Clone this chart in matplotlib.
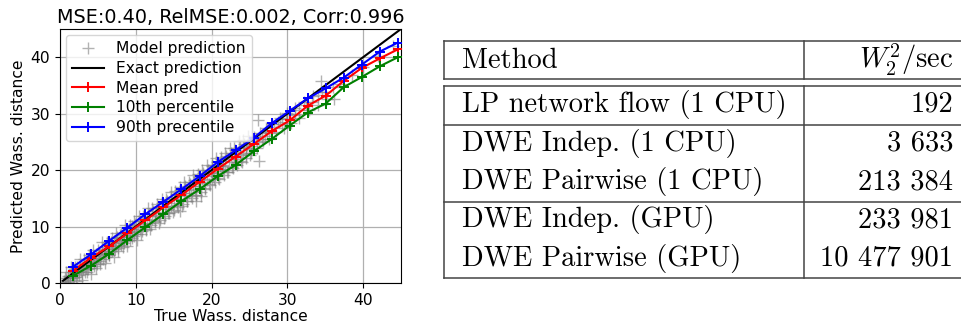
import matplotlib as mpl
mpl.use('Agg')

import matplotlib.pyplot as plt
from matplotlib.lines import Line2D

# Binned statistics of predicted vs. true Wasserstein distance
bin_centers = [1.75, 4.13, 6.51, 8.89, 11.27, 13.65, 16.03, 18.41, 20.79, 23.17,
               25.55, 27.93, 30.31, 32.69, 35.07, 37.45, 39.83, 42.21, 44.59]
mean_pred = [2.2, 4.5, 6.5, 8.8, 11.1, 13.4, 15.6, 17.9, 20.2, 22.4,
             24.6, 26.9, 28.8, 31.4, 33.2, 35.8, 38.1, 39.8, 41.4]
p90_pred = [2.9, 5.1, 7.5, 9.8, 12.2, 14.4, 16.6, 18.9, 21.4, 23.5,
            25.7, 28.3, 30.5, 32.7, 34.5, 36.4, 38.7, 41.0, 42.6]
p10_pred = [1.3, 3.1, 5.2, 7.6, 9.9, 12.2, 14.5, 16.6, 18.9, 20.9,
            23.3, 25.5, 27.9, 30.2, 31.8, 34.7, 36.5, 38.4, 40.0]
exact_range = [0.4, 45.0]

# Individual model predictions (true, predicted)
true_dist = [0.5, 0.7, 0.9, 1.1, 1.3, 1.5, 1.7, 1.9, 2.1, 2.3, 2.5, 2.7, 2.9, 3.1, 3.3,
             3.5, 3.7, 3.9, 4.1, 4.3, 4.5, 4.7, 4.9, 5.1, 5.3, 5.5, 5.7, 5.9, 6.1, 6.3,
             6.5, 6.7, 6.9, 7.1, 7.3, 7.5, 7.7, 7.9, 8.1, 8.3, 8.5, 8.7, 8.9, 9.1, 9.3,
             9.5, 9.7, 9.9, 1.0, 2.0, 3.0, 4.0, 5.0, 6.0, 7.0, 8.0, 9.0, 10.0,
             10.2, 10.5, 10.8, 11.1, 11.4, 11.7, 12.0, 12.3, 12.6, 12.9, 13.2, 13.5,
             13.8, 14.1, 14.4, 14.7, 15.0, 15.3, 15.6, 15.9, 16.2, 16.5, 16.8, 17.1,
             17.4, 17.7, 18.0, 18.3, 18.6, 18.9, 19.2, 19.5, 19.8, 20.1, 20.4, 20.7,
             21.0, 21.3, 21.6, 21.9, 22.2, 22.5, 22.8, 23.1, 23.4, 23.7, 24.0, 24.3,
             24.6, 24.9, 11.0, 12.5, 14.0, 15.5, 17.0, 18.5, 20.0, 21.5, 23.0, 24.5,
             18.0, 18.6, 15.8,
             25.2, 25.6, 26.0, 26.4, 26.8, 27.2, 27.6, 28.0, 28.5, 29.0, 29.5, 30.0,
             30.5, 31.0, 31.6, 32.2, 32.8, 33.4, 34.0, 34.6, 35.3, 36.0, 37.0, 38.5,
             40.0, 42.0, 44.0, 26.2, 26.1, 34.5, 36.1, 27.0, 30.0,
             0.6, 0.85, 1.35, 1.6, 1.85, 2.2, 2.45, 2.8, 3.2, 3.45, 3.8, 4.2, 4.45,
             4.8, 5.2, 5.45, 5.8, 6.2, 6.45, 6.8, 7.2, 7.45, 7.8, 8.2, 8.45, 8.8,
             9.2, 9.45, 9.8, 10.3, 10.6, 11.0, 11.5, 11.8, 12.2, 12.7, 13.0, 13.4,
             13.9, 14.2, 14.6, 15.1, 15.4, 15.8, 16.3, 16.6, 17.0, 17.5, 17.8, 18.2,
             18.7, 19.0, 19.4, 19.9, 20.2, 20.6, 21.1, 21.4, 21.8, 22.3, 22.6, 23.0,
             23.5, 23.8, 24.2, 24.7, 25.0, 25.4, 25.9, 26.3, 26.7, 27.3, 27.8, 28.3,
             28.8, 29.3, 29.8, 30.4, 31.0, 31.5, 32.5, 33.2, 34.1, 35.0,
             0.8, 1.4, 2.0, 2.6, 3.2, 3.8, 4.4, 5.0, 5.6, 6.2, 6.8, 7.4, 8.0, 8.6,
             9.2, 9.8, 10.4, 11.0, 11.6, 12.2, 12.8, 13.4, 14.0, 14.6, 15.2, 15.8,
             16.4, 17.0, 17.6, 18.2, 18.8, 19.4, 20.0, 20.6, 21.2, 21.8, 22.4, 23.0,
             23.6, 24.2, 24.8,
             2.3, 2.9, 3.5, 4.1, 4.7, 5.3, 5.9, 6.5, 7.1, 7.7, 8.3, 8.9, 9.5, 10.1,
             10.7, 11.3, 11.9, 12.5, 13.1, 13.7, 14.3, 14.9, 15.5, 16.1, 16.7, 17.3,
             17.9, 18.5, 19.1, 19.7, 20.3, 20.9, 21.5, 22.1, 22.7, 23.3, 23.9, 24.5,
             25.1]
pred_dist = [0.3, 0.9, 0.2, 1.3, 0.5, 1.9, 0.8, 2.4, 1.0, 2.9, 1.5, 3.1, 1.6, 2.8, 1.9,
             3.8, 2.4, 4.4, 2.6, 4.5, 3.1, 5.2, 3.4, 5.3, 3.9, 6.0, 4.3, 6.3, 4.6, 6.9,
             5.0, 7.3, 5.6, 7.5, 6.0, 8.1, 6.2, 8.5, 6.7, 8.9, 7.0, 9.3, 7.5, 9.6, 7.7,
             10.1, 8.3, 10.4, 0.8, 1.7, 2.5, 3.6, 4.5, 5.6, 6.5, 7.6, 8.4, 9.3,
             8.6, 11.0, 9.2, 11.6, 9.6, 12.2, 10.3, 12.8, 10.8, 13.4, 11.2, 14.1,
             11.9, 14.6, 12.4, 15.3, 13.0, 15.8, 13.4, 16.4, 14.0, 17.1, 14.5, 17.6,
             15.1, 18.3, 15.6, 18.8, 16.2, 19.5, 16.8, 20.1, 17.4, 20.7, 17.9, 21.4,
             18.5, 21.9, 19.1, 22.5, 19.7, 23.0, 20.3, 23.6, 20.9, 24.1, 21.5, 24.6,
             22.1, 25.2, 10.5, 12.0, 13.5, 14.9, 16.5, 17.9, 19.5, 20.9, 22.4, 23.9,
             14.6, 15.4, 12.8,
             23.0, 25.9, 24.0, 26.6, 25.1, 27.4, 25.6, 28.2, 26.7, 29.3, 27.5, 30.2,
             28.4, 31.0, 29.2, 32.0, 30.6, 33.1, 31.5, 33.8, 32.6, 34.8, 35.2, 36.8,
             38.3, 40.2, 42.0, 21.6, 28.9, 35.7, 32.6, 26.0, 29.1,
             0.1, 0.5, 1.0, 1.4, 1.1, 2.2, 2.0, 2.1, 3.3, 2.6, 3.2, 4.0, 3.7,
             4.3, 4.9, 4.7, 5.2, 6.1, 5.5, 6.2, 7.0, 6.6, 7.3, 8.1, 7.6, 8.2,
             9.0, 8.5, 9.1, 10.0, 9.6, 10.1, 11.2, 10.7, 11.3, 12.4, 11.9, 12.5,
             13.6, 13.1, 13.7, 14.8, 14.2, 14.8, 16.0, 15.4, 15.9, 17.2, 16.6, 17.1,
             18.4, 17.8, 18.3, 19.6, 19.0, 19.5, 20.8, 20.2, 20.7, 22.0, 21.4, 21.9,
             23.2, 22.6, 23.1, 24.4, 23.8, 24.3, 25.5, 24.9, 25.6, 26.8, 26.5, 27.6,
             28.5, 28.1, 29.0, 30.0, 29.8, 30.7, 31.6, 32.1, 33.3, 33.9,
             2.0, 2.9, 2.9, 4.2, 4.3, 5.0, 5.9, 5.9, 7.2, 7.3, 8.0, 8.9, 8.9, 10.2,
             10.3, 11.0, 11.9, 11.9, 13.2, 13.3, 14.0, 14.9, 14.9, 16.2, 16.3, 17.0,
             17.9, 17.9, 19.2, 19.3, 20.0, 20.9, 20.9, 22.2, 22.3, 23.0, 23.9, 23.9,
             25.2, 25.3, 26.0,
             0.4, 0.6, 1.9, 1.6, 2.6, 3.4, 3.6, 4.9, 4.6, 5.6, 6.4, 6.6, 7.9, 7.6,
             8.6, 9.4, 9.6, 10.9, 10.6, 11.6, 12.4, 12.6, 13.9, 13.6, 14.6, 15.4,
             15.6, 16.9, 16.6, 17.6, 18.4, 18.6, 19.9, 19.6, 20.6, 21.4, 21.6, 22.9,
             22.6]

# Throughput table
methods = ['LP network flow (1 CPU)', 'DWE Indep. (1 CPU)', 'DWE Pairwise (1 CPU)',
           'DWE Indep. (GPU)', 'DWE Pairwise (GPU)']
speeds = [192, 3633, 213384, 233981, 10477901]

W, H = 961, 332
fig = plt.figure(figsize=(W / 100, H / 100), dpi=100)

def fx(x):
    return x / W

def fy(y):
    return 1 - y / H

fs = 11.2
ax = fig.add_axes([fx(60), fy(283), (401 - 60) / W, (283 - 29) / H])
ax.plot(true_dist, pred_dist, '+', color='gray', alpha=0.6, markersize=8,
        label='Model prediction', zorder=2)
ax.plot(exact_range, exact_range, '-', color='black', lw=1.5,
        label='Exact prediction', zorder=3)
ax.plot(bin_centers, mean_pred, '-+', color='red', lw=1.5, markersize=6.5, mew=1.4,
        label='Mean pred', zorder=4)
ax.plot(bin_centers, p10_pred, '-+', color='green', lw=1.5, markersize=6.5, mew=1.4,
        label='10th percentile', zorder=4)
ax.plot(bin_centers, p90_pred, '-+', color='blue', lw=1.5, markersize=6.5, mew=1.4,
        label='90th precentile', zorder=4)
ax.set_xlim(0, 45)
ax.set_ylim(0, 45)
ax.set_xticks([0, 10, 20, 30, 40])
ax.set_yticks([0, 10, 20, 30, 40])
ax.grid(True, color='#b0b0b0', lw=0.9)
ax.set_axisbelow(True)
ax.tick_params(labelsize=fs)
ax.set_xlabel('True Wass. distance', fontsize=fs, labelpad=1)
ax.set_ylabel('Predicted Wass. distance', fontsize=fs, labelpad=3)
ax.set_title('MSE:0.40, RelMSE:0.002, Corr:0.996', fontsize=13.8, pad=4)
ax.legend(loc='upper left', fontsize=fs, handlelength=2.0, borderaxespad=0.4,
          labelspacing=0.3)

# Table: rules and text in pixel coordinates
rule = dict(color='#444444', lw=1.1)
x_left, x_mid, x_right = 444.3, 804.3, 961
for y in [40.7, 79.3, 86.0, 125.0, 201.7, 278.3]:
    fig.add_artist(Line2D([fx(x_left), fx(x_right)], [fy(y), fy(y)], **rule))
for x in [x_left, x_mid]:
    fig.add_artist(Line2D([fx(x), fx(x)], [fy(40.7), fy(79.3)], **rule))
    fig.add_artist(Line2D([fx(x), fx(x)], [fy(86.0), fy(278.3)], **rule))

plt.rcParams['mathtext.fontset'] = 'cm'
tsize = 20.5
fig.text(fx(461.7), fy(68.3), 'Method', family='cmr10', fontsize=tsize, va='baseline')
fig.text(fx(953.3), fy(68.3), r'$W_2^2/\mathrm{sec}$', fontsize=tsize,
         ha='right', va='baseline')
baselines = [111.7, 150.7, 189.0, 227.3, 265.7]
for name, v, yb in zip(methods, speeds, baselines):
    fig.text(fx(461.7), fy(yb), name, family='cmr10', fontsize=tsize, va='baseline')
    fig.text(fx(953.3), fy(yb), f'{v:,}'.replace(',', ' '), family='cmr10',
             fontsize=tsize, ha='right', va='baseline')

fig.savefig('out.png', dpi=100)
